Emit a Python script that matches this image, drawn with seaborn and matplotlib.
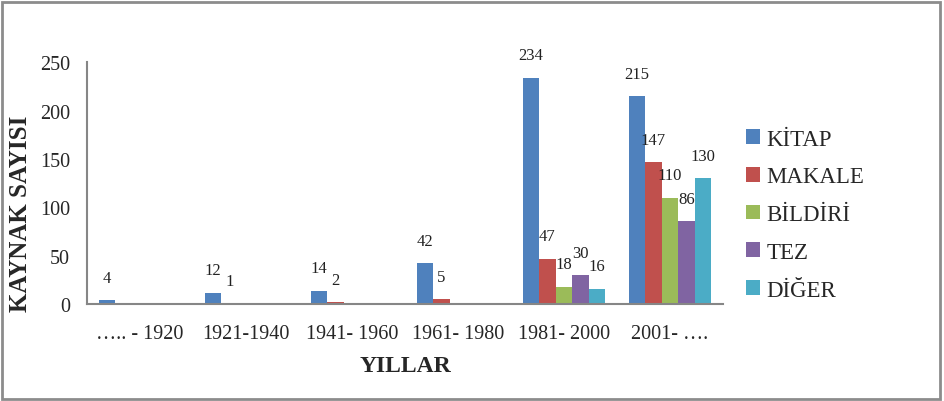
import numpy as np
import pandas as pd
import matplotlib
matplotlib.use("Agg")
import matplotlib.pyplot as plt
import seaborn as sns
from matplotlib.patches import Rectangle

periods = ["….. - 1920", "1921-1940", "1941- 1960", "1961- 1980", "1981- 2000", "2001- …."]
series = ["KİTAP", "MAKALE", "BİLDİRİ", "TEZ", "DİĞER"]
kitap = [4, 12, 14, 42, 234, 215]
makale = [np.nan, 1, 2, 5, 47, 147]
bildiri = [np.nan, np.nan, np.nan, np.nan, 18, 110]
tez = [np.nan, np.nan, np.nan, np.nan, 30, 86]
diger = [np.nan, np.nan, np.nan, np.nan, 16, 130]
colors = ["#4F81BD", "#C0504D", "#9BBB59", "#8064A2", "#4BACC6"]
yticks = [0, 50, 100, 150, 200, 250]

rows = []
for name, vals in zip(series, [kitap, makale, bildiri, tez, diger]):
    for p, v in zip(periods, vals):
        rows.append({"Dönem": p, "Tür": name, "Sayı": v})
df = pd.DataFrame(rows)

sns.set_style("white")
plt.rcParams["font.family"] = ["Liberation Serif", "DejaVu Serif"]

fig = plt.figure(figsize=(9.44, 4.02), dpi=100)
ax = fig.add_axes([0.092, 0.241, 0.674, 0.602])

sns.barplot(data=df, x="Dönem", y="Sayı", hue="Tür", order=periods,
            hue_order=series, palette=colors, width=0.78, ax=ax,
            errorbar=None, saturation=1, linewidth=0, legend=True)

for cont in ax.containers:
    for patch in cont:
        h = patch.get_height()
        if np.isfinite(h) and h > 0:
            ax.annotate(f"{int(round(h))}", (patch.get_x() + patch.get_width() / 2, h),
                        xytext=(0, 16), textcoords="offset points",
                        ha="center", va="center", fontsize=12, color="#222222")

ax.set_ylim(0, 250)
ax.set_xlim(-0.5, len(periods) - 0.5)
ax.set_yticks(yticks)
ax.set_yticklabels([str(t) for t in yticks], fontsize=14.5)
ax.set_xticks(range(len(periods)))
ax.set_xticklabels(periods, fontsize=14.5)
ax.set_xticks(np.arange(-0.5, len(periods), 1.0), minor=True)
ax.tick_params(axis="x", which="major", length=0, pad=14)
ax.tick_params(axis="x", which="minor", length=5, width=1.5, color="#868686", direction="out")
ax.tick_params(axis="y", length=5, width=1.5, color="#868686", direction="out", pad=7)

for s in ["top", "right"]:
    ax.spines[s].set_visible(False)
for s in ["left", "bottom"]:
    ax.spines[s].set_color("#868686")
    ax.spines[s].set_linewidth(1.5)

ax.set_xlabel("YILLAR", fontsize=17, fontweight="bold", labelpad=9)
ax.set_ylabel("KAYNAK SAYISI", fontsize=18, fontweight="bold")
ax.yaxis.set_label_coords(-0.086, 0.376)

leg = ax.legend(loc="center left", bbox_to_anchor=(1.0, 0.37), frameon=False,
                fontsize=16.5, handlelength=0.6, handleheight=0.6,
                handletextpad=0.3, labelspacing=0.73, borderaxespad=0.6)

fig.patches.append(Rectangle((0.002, 0.005), 0.994, 0.988, transform=fig.transFigure,
                             fill=False, edgecolor="#8c8c8c", linewidth=2))

fig.savefig("out.png", dpi=100)
